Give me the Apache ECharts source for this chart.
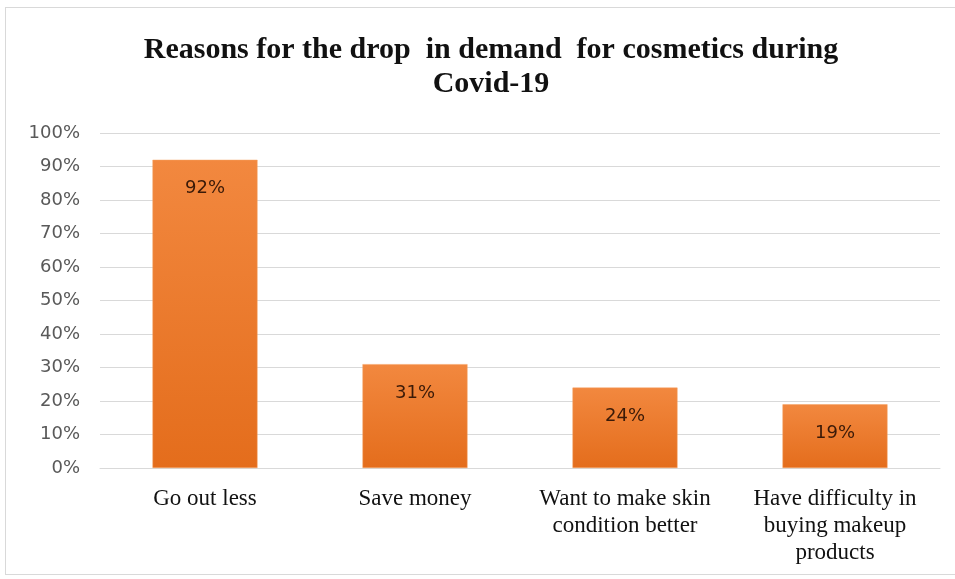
<!DOCTYPE html>
<html>
<head>
<meta charset="utf-8">
<script src="https://cdn.jsdelivr.net/npm/echarts@6/dist/echarts.min.js"></script>
<style>
html,body{margin:0;padding:0;background:#fff;}
#frame{position:absolute;left:5px;top:7px;width:960px;height:568px;border:1px solid #d9d9d9;box-sizing:border-box;}
#chart{position:absolute;left:0;top:0;width:955px;height:579px;}
</style>
</head>
<body>
<div id="frame"></div>
<div id="chart"></div>
<script>
const titleText = "Reasons for the drop  in demand  for cosmetics during\nCovid-19";
const categories = ["Go out less", "Save money", "Want to make skin\ncondition better", "Have difficulty in\nbuying makeup\nproducts"];
const values = [92, 31, 24, 19];
const yTicks = [0, 10, 20, 30, 40, 50, 60, 70, 80, 90, 100];

const chart = echarts.init(document.getElementById('chart'), null, {renderer: 'canvas'});
chart.setOption({
  backgroundColor: 'transparent',
  animation: false,
  title: {
    text: titleText,
    left: 486,
    textAlign: 'center',
    top: 28,
    textStyle: {fontFamily: 'Liberation Serif', fontWeight: 'bold', fontSize: 30, color: '#111', lineHeight: 34}
  },
  grid: {left: 100, right: 15, top: 133, bottom: 111, containLabel: false},
  xAxis: {
    type: 'category',
    data: categories,
    axisLine: {lineStyle: {color: '#d9d9d9', width: 1}},
    axisTick: {show: false},
    axisLabel: {fontFamily: 'Liberation Serif', fontSize: 23, color: '#111', lineHeight: 27, margin: 17, interval: 0}
  },
  yAxis: {
    type: 'value',
    min: 0, max: 100, interval: 10,
    axisLine: {show: false},
    axisTick: {show: false},
    splitLine: {lineStyle: {color: '#d9d9d9', width: 1}},
    axisLabel: {fontFamily: 'DejaVu Sans', fontSize: 18, color: '#595959', margin: 20,
      formatter: v => yTicks.indexOf(v) >= 0 ? v + '%' : ''}
  },
  series: [{
    type: 'bar',
    data: values,
    barWidth: '50%',
    itemStyle: {
      color: new echarts.graphic.LinearGradient(0, 0, 0, 1, [
        {offset: 0, color: '#F2883F'},
        {offset: 1, color: '#E46D1C'}
      ]),
      borderColor: '#F5A060', borderWidth: 0.5
    },
    label: {
      show: true, position: 'insideTop', distance: 20,
      formatter: p => p.value + '%',
      fontFamily: 'DejaVu Sans', fontSize: 18, color: '#3a1a08'
    }
  }]
});
</script>
</body>
</html>
